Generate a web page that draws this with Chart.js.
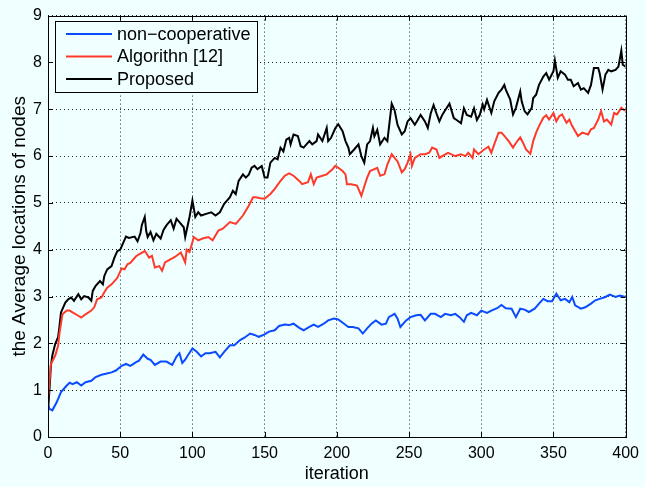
<!DOCTYPE html>
<html>
<head>
<meta charset="utf-8">
<script src="https://cdn.jsdelivr.net/npm/chart.js@4"></script>
<style>
  body { margin: 0; background: #f0ffff; }
  canvas { display: block; }
</style>
</head>
<body>
<canvas id="grafico" width="646" height="487"></canvas>
<script>
// Datos (iteración, valor)
const seriesNames = ['non\u2212cooperative', 'Algorithn [12]', 'Proposed'];

const blueIter = [0,1,3,6,9,13,15,17,20,23,26,30,33,37,40,44,47,51,54,57,61,63,66,69,71,74,78,82,86,89,91,93,95,97,100,103,106,109,112,116,119,122,126,129,133,136,140,143,146,150,153,157,160,164,167,170,174,177,181,184,187,191,194,198,201,205,208,211,215,218,221,224,227,231,234,236,240,242,244,248,251,255,258,261,265,268,272,275,279,282,285,288,290,293,297,300,304,307,311,314,317,321,324,327,330,333,337,340,343,346,349,352,355,358,361,363,365,369,372,376,379,382,386,389,393,396,400];
const blueVals = [0.7,0.6,0.57,0.74,0.96,1.1,1.16,1.13,1.17,1.1,1.17,1.2,1.28,1.33,1.35,1.38,1.42,1.52,1.56,1.52,1.6,1.63,1.76,1.67,1.65,1.54,1.61,1.61,1.54,1.72,1.79,1.58,1.65,1.75,1.89,1.82,1.72,1.79,1.79,1.82,1.7,1.82,1.96,1.96,2.07,2.12,2.21,2.18,2.14,2.19,2.25,2.28,2.37,2.4,2.39,2.42,2.33,2.28,2.35,2.4,2.35,2.42,2.49,2.53,2.51,2.42,2.35,2.35,2.32,2.21,2.32,2.42,2.49,2.4,2.42,2.56,2.63,2.53,2.35,2.49,2.56,2.6,2.61,2.49,2.63,2.63,2.56,2.63,2.6,2.63,2.56,2.46,2.6,2.65,2.6,2.7,2.65,2.7,2.75,2.82,2.75,2.74,2.56,2.74,2.72,2.67,2.74,2.85,2.95,2.9,2.9,3.06,2.92,2.95,2.88,2.99,2.81,2.74,2.77,2.85,2.92,2.95,2.99,3.04,2.99,3.02,2.99];

const redIter = [0,2,5,7,8,10,13,15,17,21,23,26,30,32,34,37,39,41,44,46,48,51,53,55,57,61,63,67,68,70,72,74,77,79,81,85,87,89,92,95,96,98,101,104,107,111,114,118,121,126,130,135,139,142,144,147,150,154,157,161,164,167,170,174,176,180,182,184,186,190,193,197,199,201,204,206,207,210,214,217,219,221,223,226,228,230,233,235,238,240,242,245,247,249,251,252,254,256,258,261,264,266,269,271,273,277,279,282,286,289,291,294,295,298,302,305,307,309,312,314,316,319,322,324,327,329,331,334,336,338,340,343,345,347,350,352,354,356,359,361,363,367,370,374,376,378,381,383,385,387,390,392,394,397,399,400];
const redVals = [0.8,1.56,1.74,1.95,2.23,2.62,2.7,2.7,2.66,2.59,2.55,2.62,2.7,2.77,2.94,2.98,3.09,3.19,3.26,3.33,3.4,3.6,3.58,3.69,3.72,3.86,3.9,3.97,3.93,3.83,3.87,3.62,3.65,3.55,3.73,3.8,3.83,3.87,3.94,3.73,4.0,3.95,4.27,4.2,4.24,4.27,4.2,4.41,4.45,4.59,4.55,4.73,4.94,5.12,5.12,5.1,5.09,5.19,5.3,5.47,5.58,5.63,5.58,5.47,5.4,5.44,5.61,5.4,5.54,5.58,5.61,5.72,5.79,5.75,5.68,5.61,5.4,5.4,5.37,5.15,5.35,5.54,5.68,5.72,5.75,5.58,5.61,5.82,6.04,5.96,5.89,5.65,5.72,5.86,6.04,5.79,5.96,6.0,6.04,6.04,6.07,6.18,6.14,5.96,6.0,6.07,6.04,6.0,6.04,6.0,6.07,5.96,6.14,6.04,6.14,6.2,6.07,6.25,6.5,6.5,6.43,6.32,6.18,6.28,6.4,6.28,6.14,6.05,6.32,6.5,6.64,6.82,6.87,6.78,6.92,6.74,6.85,6.89,6.71,6.78,6.64,6.43,6.5,6.46,6.57,6.6,6.78,6.96,6.74,6.78,6.67,6.92,6.89,7.03,6.98,6.97];

const blackIter = [0,1,2,3,5,7,8,9,12,14,16,18,21,23,25,28,30,31,33,36,38,39,41,44,46,48,50,52,54,56,60,62,64,65,67,68,69,71,73,75,78,80,82,85,87,89,91,94,95,98,100,102,104,106,110,113,116,119,122,126,128,130,132,135,137,139,141,143,145,148,150,152,154,157,159,161,163,165,167,168,170,173,175,177,181,183,186,187,190,193,194,196,199,201,204,206,208,209,212,215,217,219,221,223,225,226,228,230,233,235,238,240,242,245,247,249,251,254,256,258,261,263,265,267,269,271,273,275,278,281,283,286,288,290,293,295,297,299,301,302,304,307,309,312,314,316,317,320,322,324,327,328,330,332,335,336,338,340,343,345,347,350,351,353,355,358,360,362,364,367,369,371,374,376,378,381,382,384,386,388,390,393,395,397,398,400];
const blackVals = [0.55,1.0,1.52,1.74,1.99,2.13,2.38,2.66,2.87,2.94,2.98,2.91,3.05,2.94,3.01,2.98,2.91,3.12,3.23,3.33,3.26,3.44,3.58,3.65,3.83,3.97,4.0,4.14,4.28,4.25,4.28,4.18,4.35,4.53,4.7,4.4,4.27,4.38,4.2,4.34,4.24,4.42,4.52,4.63,4.45,4.66,4.59,4.48,4.27,4.7,5.05,4.7,4.8,4.73,4.77,4.8,4.73,4.8,4.98,5.12,5.26,5.19,5.47,5.61,5.54,5.6,5.75,5.79,5.72,5.79,5.54,5.54,5.86,5.96,5.93,6.18,6.1,6.35,6.39,6.25,6.46,6.43,6.21,6.18,6.32,6.25,6.32,6.46,6.32,6.6,6.32,6.39,6.6,6.68,6.53,6.32,6.18,6.04,6.14,6.25,6.0,5.86,6.25,6.32,6.6,6.42,6.56,6.25,6.39,6.32,7.12,6.98,6.67,6.46,6.53,6.74,6.81,6.67,6.77,6.88,6.74,6.6,6.91,7.09,6.91,6.74,6.88,6.98,7.12,6.81,6.77,6.7,7.02,6.88,6.84,7.02,6.77,6.88,7.1,7.0,7.2,6.92,7.17,7.35,7.42,7.52,7.42,7.21,6.89,7.03,7.38,7.17,6.96,6.89,7.03,7.24,7.31,7.52,7.7,7.77,7.63,7.81,8.04,7.67,7.81,7.74,7.63,7.63,7.49,7.56,7.42,7.45,7.35,7.52,7.88,7.88,7.77,7.42,7.74,7.84,7.81,7.84,7.91,8.25,7.95,7.91];

const xTicks = [0, 50, 100, 150, 200, 250, 300, 350, 400];
const yTicks = [0, 1, 2, 3, 4, 5, 6, 7, 8, 9];

const fondo = '#f0ffff';
const fuente = "'Liberation Sans', Arial, Helvetica, sans-serif";

function puntos(xs, ys) {
  return xs.map((x, i) => ({ x: x, y: ys[i] }));
}

// Marco, marcas interiores y leyenda al estilo MATLAB
const estiloMatlab = {
  id: 'estiloMatlab',
  beforeDraw(chart) {
    const ctx = chart.ctx;
    ctx.save();
    ctx.fillStyle = fondo;
    ctx.fillRect(0, 0, chart.width, chart.height);
    ctx.restore();
  },
  afterDraw(chart) {
    const ctx = chart.ctx;
    const a = chart.chartArea;
    const sx = chart.scales.x;
    const sy = chart.scales.y;
    ctx.save();
    ctx.strokeStyle = '#000';
    ctx.lineWidth = 1;
    ctx.beginPath();
    xTicks.forEach(t => {
      const px = Math.round(sx.getPixelForValue(t)) + 0.5;
      ctx.moveTo(px, a.bottom); ctx.lineTo(px, a.bottom - 5);
      ctx.moveTo(px, a.top); ctx.lineTo(px, a.top + 5);
    });
    yTicks.forEach(t => {
      const py = Math.round(sy.getPixelForValue(t)) + 0.5;
      ctx.moveTo(a.left, py); ctx.lineTo(a.left + 5, py);
      ctx.moveTo(a.right, py); ctx.lineTo(a.right - 5, py);
    });
    ctx.stroke();
    ctx.strokeRect(Math.round(a.left) + 0.5, Math.round(a.top) + 0.5,
                   Math.round(a.right - a.left), Math.round(a.bottom - a.top));

    // leyenda
    const lx = 55.5, ly = 21.5, lw = 202, lh = 71;
    ctx.fillStyle = fondo;
    ctx.fillRect(lx, ly, lw, lh);
    ctx.strokeRect(lx, ly, lw, lh);
    ctx.font = '18px ' + fuente;
    ctx.textBaseline = 'middle';
    chart.data.datasets.forEach((ds, i) => {
      const y = 34 + i * 22.5;
      ctx.strokeStyle = ds.borderColor;
      ctx.lineWidth = 2;
      ctx.beginPath();
      ctx.moveTo(66, y); ctx.lineTo(112, y);
      ctx.stroke();
      ctx.fillStyle = '#000';
      ctx.fillText(ds.label, 117, y + 1);
    });
    ctx.restore();
  }
};

new Chart(document.getElementById('grafico'), {
  type: 'line',
  data: {
    datasets: [
      { label: seriesNames[0], data: puntos(blueIter, blueVals), borderColor: '#0a4bff' },
      { label: seriesNames[1], data: puntos(redIter, redVals), borderColor: '#ff3a2a' },
      { label: seriesNames[2], data: puntos(blackIter, blackVals), borderColor: '#000000' }
    ]
  },
  options: {
    responsive: false,
    animation: false,
    layout: { padding: { top: 14, right: 14, left: 0, bottom: 0 } },
    elements: {
      line: { borderWidth: 2, tension: 0 },
      point: { radius: 0 }
    },
    plugins: { legend: { display: false }, tooltip: { enabled: false } },
    scales: {
      x: {
        type: 'linear',
        min: 0, max: 400,
        afterFit: s => { s.height = 50; },
        afterBuildTicks: s => { s.ticks = xTicks.map(v => ({ value: v })); },
        ticks: { color: '#000', font: { family: fuente, size: 16 }, padding: 7, maxRotation: 0 },
        grid: { color: '#222', drawTicks: false },
        border: { display: false, dash: [1, 3] },
        title: { display: true, text: 'iteration', color: '#000', font: { family: fuente, size: 18 }, padding: { top: 0, bottom: 2 } }
      },
      y: {
        min: 0, max: 9,
        afterFit: s => { s.width = 48; },
        afterBuildTicks: s => { s.ticks = yTicks.map(v => ({ value: v })); },
        ticks: { color: '#000', font: { family: fuente, size: 16 }, padding: 6 },
        grid: { color: '#222', drawTicks: false },
        border: { display: false, dash: [1, 3] },
        title: { display: true, text: 'the Average locations of nodes', color: '#000', font: { family: fuente, size: 19 }, padding: { top: 8, bottom: 0 } }
      }
    }
  },
  plugins: [estiloMatlab]
});
</script>
</body>
</html>
